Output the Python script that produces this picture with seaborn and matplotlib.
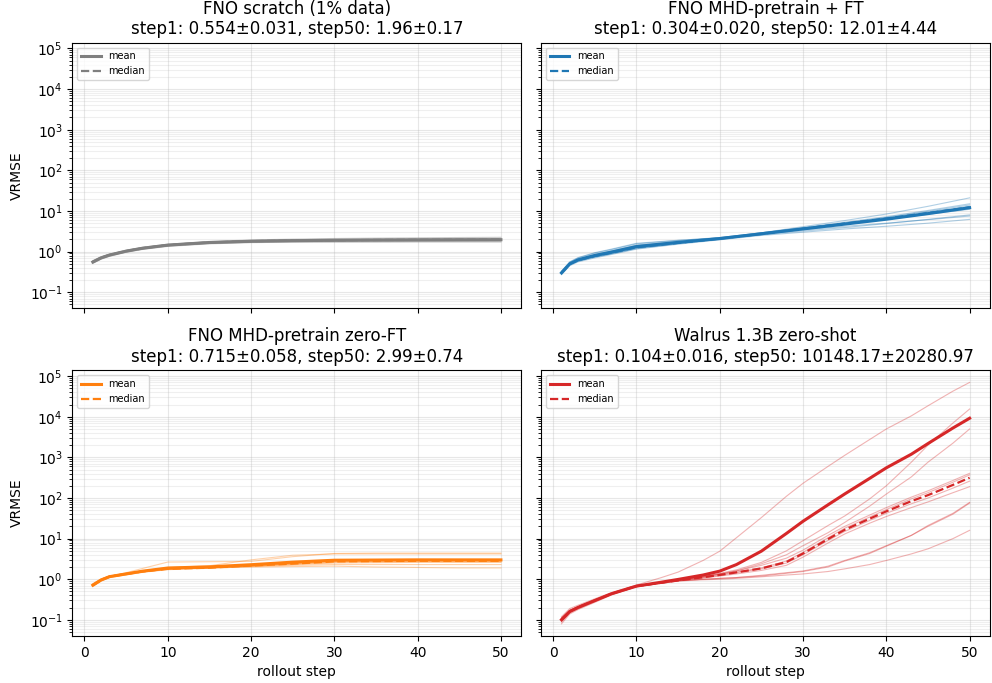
import numpy as np
import pandas as pd
import matplotlib
matplotlib.use("Agg")
import matplotlib.pyplot as plt
import seaborn as sns

steps = [1, 2, 3, 5, 7, 10, 15, 20, 25, 30, 35, 40, 45, 50]
walrus_steps = [1, 2, 3, 5, 7, 10, 13, 15, 18, 20, 22, 25, 28, 30, 33, 35, 38, 40,
                43, 45, 48, 50]

# FNO scratch (1% data)
scratch_runs = [
    [0.52, 0.66, 0.78, 0.98, 1.16, 1.38, 1.60, 1.72, 1.78, 1.81, 1.83, 1.84, 1.85, 1.86],
    [0.55, 0.70, 0.82, 1.03, 1.22, 1.46, 1.70, 1.83, 1.90, 1.94, 1.97, 1.99, 2.00, 2.01],
    [0.57, 0.72, 0.85, 1.06, 1.26, 1.50, 1.74, 1.88, 1.96, 2.02, 2.06, 2.09, 2.11, 2.13],
    [0.60, 0.75, 0.87, 1.08, 1.28, 1.52, 1.78, 1.93, 2.03, 2.10, 2.15, 2.19, 2.22, 2.25],
    [0.51, 0.65, 0.76, 0.96, 1.13, 1.34, 1.55, 1.66, 1.71, 1.73, 1.74, 1.75, 1.75, 1.75],
    [0.56, 0.71, 0.83, 1.04, 1.23, 1.47, 1.71, 1.84, 1.91, 1.95, 1.98, 2.00, 2.02, 2.03],
    [0.54, 0.69, 0.81, 1.02, 1.20, 1.43, 1.66, 1.78, 1.84, 1.87, 1.89, 1.90, 1.91, 1.92],
    [0.58, 0.73, 0.85, 1.06, 1.25, 1.49, 1.73, 1.86, 1.93, 1.97, 2.00, 2.02, 2.03, 2.04],
    [0.53, 0.68, 0.80, 1.01, 1.19, 1.42, 1.64, 1.76, 1.82, 1.85, 1.86, 1.87, 1.88, 1.88],
    [0.58, 0.72, 0.83, 1.02, 1.19, 1.40, 1.60, 1.68, 1.71, 1.72, 1.72, 1.73, 1.73, 1.73],
]

# FNO MHD-pretrain + FT
ft_runs = [
    [0.29, 0.48, 0.60, 0.76, 0.92, 1.25, 1.62, 2.10, 2.90, 4.10, 5.80, 8.40, 13.0, 21.0],
    [0.31, 0.52, 0.66, 0.86, 1.05, 1.45, 1.80, 2.20, 2.90, 3.90, 5.30, 7.20, 10.3, 15.0],
    [0.30, 0.50, 0.62, 0.78, 0.94, 1.28, 1.64, 2.08, 2.80, 3.80, 5.10, 6.90, 9.80, 14.0],
    [0.28, 0.47, 0.58, 0.73, 0.88, 1.18, 1.56, 2.02, 2.70, 3.70, 5.00, 6.80, 9.40, 13.0],
    [0.32, 0.55, 0.70, 0.92, 1.12, 1.55, 1.88, 2.22, 2.90, 3.80, 5.00, 6.60, 9.00, 12.5],
    [0.30, 0.49, 0.61, 0.77, 0.93, 1.27, 1.63, 2.06, 2.75, 3.60, 4.80, 6.40, 8.80, 12.0],
    [0.29, 0.49, 0.60, 0.75, 0.90, 1.22, 1.60, 2.05, 2.70, 3.60, 4.70, 6.20, 8.30, 11.0],
    [0.33, 0.56, 0.71, 0.94, 1.15, 1.60, 1.90, 2.15, 2.60, 3.20, 3.90, 4.90, 6.20, 8.00],
    [0.31, 0.51, 0.64, 0.82, 1.00, 1.38, 1.72, 2.10, 2.70, 3.40, 4.20, 5.00, 6.10, 7.50],
    [0.27, 0.45, 0.56, 0.70, 0.85, 1.15, 1.52, 1.95, 2.50, 3.00, 3.60, 4.20, 5.00, 6.20],
]

# FNO MHD-pretrain zero-FT
zero_runs = [
    [0.72, 0.98, 1.18, 1.45, 1.85, 2.65, 2.70, 2.75, 3.60, 4.30, 4.40, 4.40, 4.40, 4.40],
    [0.74, 1.00, 1.20, 1.40, 1.62, 1.95, 2.15, 3.00, 3.90, 4.20, 4.20, 4.20, 4.20, 4.20],
    [0.70, 0.94, 1.14, 1.33, 1.55, 1.80, 1.95, 2.25, 2.60, 3.00, 3.05, 3.10, 3.10, 3.10],
    [0.68, 0.92, 1.12, 1.30, 1.52, 1.78, 1.92, 2.20, 2.50, 2.90, 2.95, 3.00, 3.00, 3.00],
    [0.73, 0.97, 1.17, 1.36, 1.58, 1.82, 1.95, 2.20, 2.45, 2.80, 2.85, 2.90, 2.90, 2.90],
    [0.71, 0.95, 1.15, 1.34, 1.55, 1.79, 1.92, 2.15, 2.40, 2.70, 2.75, 2.80, 2.80, 2.80],
    [0.69, 0.93, 1.13, 1.31, 1.52, 1.76, 1.90, 2.10, 2.35, 2.60, 2.65, 2.70, 2.70, 2.70],
    [0.75, 1.00, 1.19, 1.38, 1.58, 1.82, 1.94, 2.10, 2.30, 2.50, 2.55, 2.60, 2.60, 2.60],
    [0.66, 0.90, 1.10, 1.28, 1.48, 1.72, 1.86, 2.05, 2.20, 2.30, 2.30, 2.30, 2.30, 2.30],
    [0.78, 1.02, 1.20, 1.38, 1.57, 1.80, 1.90, 2.00, 2.05, 2.10, 2.00, 1.95, 1.90, 1.90],
]

# Walrus 1.3B zero-shot (read at walrus_steps)
walrus_runs = [
    [0.12, 0.19, 0.23, 0.33, 0.47, 0.72, 1.10, 1.50, 2.90, 4.90, 10.5, 33.0, 110, 230,
     600, 1120, 2750, 5000, 10500, 18600, 42700, 70000],
    [0.11, 0.17, 0.21, 0.31, 0.45, 0.69, 0.85, 0.97, 1.20, 1.40, 1.70, 2.60, 5.00, 8.90,
     21.0, 36.0, 95.0, 200, 760, 2000, 7000, 15500],
    [0.10, 0.16, 0.20, 0.30, 0.44, 0.68, 0.83, 0.95, 1.15, 1.35, 1.60, 2.40, 4.00, 6.70,
     14.0, 25.0, 63.0, 125, 330, 760, 2240, 5000],
    [0.10, 0.16, 0.21, 0.31, 0.45, 0.69, 0.84, 0.96, 1.18, 1.35, 1.60, 2.20, 3.30, 5.20,
     12.0, 20.0, 38.0, 58.0, 105, 150, 270, 405],
    [0.09, 0.15, 0.19, 0.29, 0.43, 0.67, 0.82, 0.94, 1.14, 1.30, 1.50, 1.90, 2.80, 4.60,
     10.5, 18.0, 34.0, 52.0, 95.0, 135, 245, 370],
    [0.11, 0.17, 0.21, 0.30, 0.44, 0.68, 0.82, 0.93, 1.10, 1.25, 1.45, 1.80, 2.50, 4.00,
     9.00, 15.0, 28.0, 42.0, 72.0, 100, 175, 260],
    [0.10, 0.16, 0.20, 0.29, 0.43, 0.66, 0.81, 0.92, 1.07, 1.20, 1.35, 1.65, 2.20, 3.50,
     7.80, 13.0, 24.0, 35.0, 58.0, 80.0, 135, 190],
    [0.09, 0.15, 0.19, 0.28, 0.42, 0.66, 0.80, 0.91, 1.00, 1.05, 1.10, 1.25, 1.45, 1.60,
     2.10, 2.90, 4.50, 6.70, 12.0, 21.0, 42.0, 78.0],
    [0.11, 0.17, 0.21, 0.31, 0.45, 0.68, 0.81, 0.92, 1.00, 1.05, 1.10, 1.20, 1.40, 1.55,
     2.00, 2.80, 4.30, 6.50, 12.0, 20.0, 40.0, 75.0],
    [0.08, 0.14, 0.18, 0.27, 0.41, 0.65, 0.79, 0.90, 0.97, 1.00, 1.05, 1.15, 1.27, 1.35,
     1.55, 1.80, 2.30, 2.90, 4.20, 5.60, 10.0, 16.0],
]

titles = [
    "FNO scratch (1% data)\nstep1: 0.554±0.031, step50: 1.96±0.17",
    "FNO MHD-pretrain + FT\nstep1: 0.304±0.020, step50: 12.01±4.44",
    "FNO MHD-pretrain zero-FT\nstep1: 0.715±0.058, step50: 2.99±0.74",
    "Walrus 1.3B zero-shot\nstep1: 0.104±0.016, step50: 10148.17±20280.97",
]
colors = ["tab:gray", "tab:blue", "tab:orange", "tab:red"]
all_runs = [scratch_runs, ft_runs, zero_runs, walrus_runs]
all_steps = [steps, steps, steps, walrus_steps]


def to_long(runs, xs):
    rows = []
    for i, r in enumerate(runs):
        for s, v in zip(xs, r):
            rows.append({"run": i, "step": s, "value": v})
    return pd.DataFrame(rows)


fig, axes = plt.subplots(2, 2, figsize=(9.92, 6.83), sharex=True, sharey=True)

for ax, runs, xs, title, c in zip(axes.flat, all_runs, all_steps, titles, colors):
    df = to_long(runs, xs)
    # individual trajectories
    sns.lineplot(data=df, x="step", y="value", units="run", estimator=None,
                 color=c, lw=0.8, alpha=0.35, ax=ax, legend=False)
    stats = df.groupby("step")["value"].agg(["mean", "median"]).reset_index()
    sns.lineplot(data=stats, x="step", y="mean", color=c, lw=2.2, ax=ax, label="mean")
    sns.lineplot(data=stats, x="step", y="median", color=c, lw=1.6, ls="--",
                 ax=ax, label="median")
    ax.set_yscale("log")
    ax.set_title(title, fontsize=12)
    ax.grid(True, which="major", alpha=0.3)
    ax.grid(True, which="minor", axis="y", alpha=0.2)
    ax.legend(loc="upper left", fontsize=7)
    ax.set_xlabel("")
    ax.set_ylabel("")

axes[0, 0].set_ylabel("VRMSE")
axes[1, 0].set_ylabel("VRMSE")
axes[1, 0].set_xlabel("rollout step")
axes[1, 1].set_xlabel("rollout step")
axes[0, 0].set_xticks([0, 10, 20, 30, 40, 50])

plt.subplots_adjust(left=0.073, right=0.998, top=0.9375, bottom=0.069,
                    wspace=0.044, hspace=0.234)
plt.savefig("out.png", dpi=100)
